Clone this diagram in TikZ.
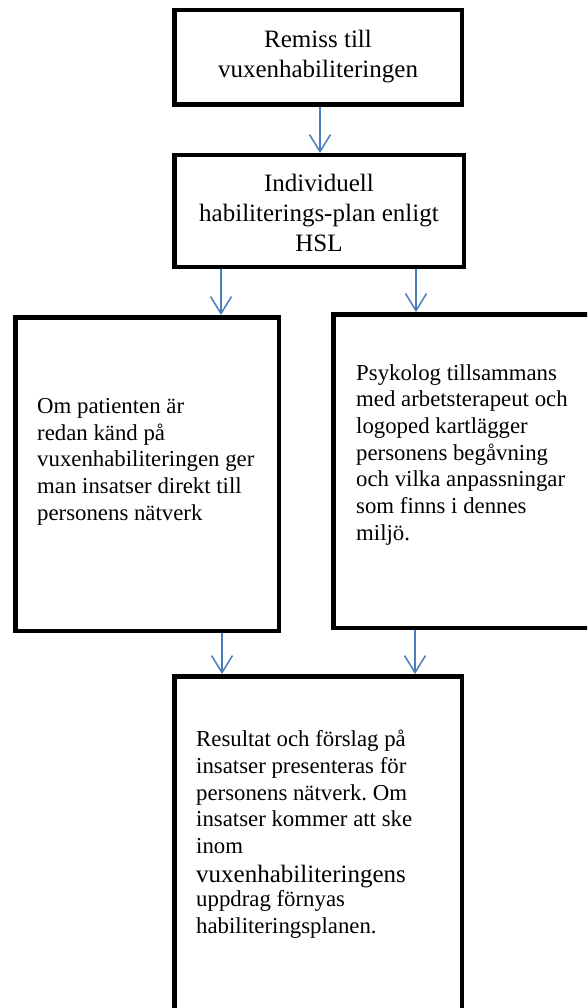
\documentclass[tikz,border=0pt]{standalone}
\usepackage{fontspec}
\setmainfont{Liberation Serif}
\usetikzlibrary{arrows.meta}
\definecolor{arrblue}{HTML}{4A7EBB}
\frenchspacing
\begin{document}
\begin{tikzpicture}[x=1pt,y=-1pt,
  box/.style={draw=black, line width=4.5pt, rectangle, inner sep=0pt},
  arr/.style={draw=arrblue, line width=1.5pt, -{Straight Barb[length=17pt,width=21pt,line width=1.5pt]}},
  toptext/.style={align=center, inner sep=0pt, font=\fontsize{25}{30}\selectfont},
  bodytext/.style={align=left, inner sep=0pt, anchor=north west, font=\fontsize{22.8}{26.7}\selectfont}]
\useasboundingbox (0,0) rectangle (587,1008);
\clip (0,0) rectangle (587,1008);
% boxes
\node[box, minimum width=287.5pt, minimum height=94.5pt] (b1) at (318,57.5) {};
\node[box, minimum width=289.5pt, minimum height=111.5pt] (b2) at (319,211) {};
\node[box, minimum width=263.5pt, minimum height=313.5pt] (b3) at (147,474) {};
\node[box, minimum width=264.5pt, minimum height=313.5pt] (b4) at (465.5,471) {};
\node[box, minimum width=287.5pt, minimum height=351.5pt] (b5) at (318,852) {};
% texts
\node[toptext] (t1) at (318,57) {Remiss till\\vuxenhabiliteringen};
\node[toptext] (t2) at (319,212.5) {Individuell\\habiliterings-plan enligt\\HSL};
\node[bodytext] (t3) at (37,398) {Om patienten är\\redan känd på\\vuxenhabiliteringen ger\\man insatser direkt till\\personens nätverk};
\node[bodytext] (t4) at (356,364) {Psykolog tillsammans\\med arbetsterapeut och\\logoped kartlägger\\personens begåvning\\och vilka anpassningar\\som finns i dennes\\miljö.};
\node[bodytext] (t5) at (196,730) {Resultat och förslag på\\insatser presenteras för\\personens nätverk. Om\\insatser kommer att ske\\inom\\[2pt]{\fontsize{25}{30}\selectfont vuxenhabiliteringens}\\[-2pt]uppdrag förnyas\\habiliteringsplanen.};
% arrows
\draw[arr] (b1.south -| 320,0) -- (b2.north -| 320,0);
\draw[arr] (b2.south -| 221,0) -- (b3.north -| 221,0);
\draw[arr] (b2.south -| 416,0) -- (b4.north -| 416,0);
\draw[arr] (b3.south -| 222,0) -- (b5.north -| 222,0);
\draw[arr] (b4.south -| 415,0) -- (b5.north -| 415,0);
\end{tikzpicture}
\end{document}
